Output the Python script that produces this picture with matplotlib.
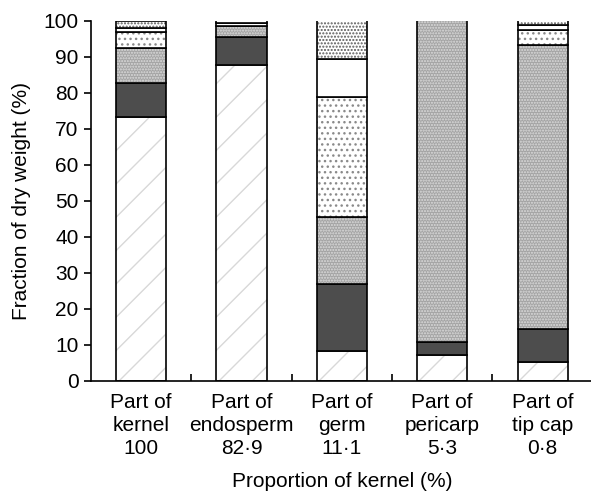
import numpy as np
import matplotlib.pyplot as plt

plt.rcParams.update({
    "font.family": ["Liberation Sans", "DejaVu Sans"],
    "font.size": 15,
    "hatch.linewidth": 1.0,
    "axes.linewidth": 1.2,
})

# parts of the kernel and their share of the whole kernel (%)
parts = ["kernel", "endosperm", "germ", "pericarp", "tip cap"]
proportion = ["100", "82\u00b79", "11\u00b71", "5\u00b73", "0\u00b78"]

# fraction of dry weight (%) per component, bottom to top
seg1 = [73.4, 87.8, 8.3, 7.1, 5.3]
seg2 = [9.5, 7.8, 18.6, 3.6, 9.1]
seg3 = [9.5, 3.0, 18.6, 89.5, 78.9]
seg4 = [4.6, 0.9, 33.5, 0.0, 4.2]
seg5 = [1.1, 0.7, 10.3, 0.0, 1.4]
seg6 = [1.9, 0.5, 11.2, 0.0, 1.6]

segments = [seg1, seg2, seg3, seg4, seg5, seg6]
faces = ["white", "#4d4d4d", "#a4a4a4", "white", "white", "white"]
hatches = ["/", None, "......", "...", None, "....."]
hatch_cols = ["#d8d8d8", "#4d4d4d", "#dcdcdc", "#8a8a8a", "white", "#5a5a5a"]

fig = plt.figure(figsize=(5.91, 4.99), dpi=100)
ax = fig.add_axes([0.154, 0.2365, 0.849, 0.7215])

x = np.arange(len(parts))
bottom = np.zeros(len(parts))
for vals, fc, h, hc in zip(segments, faces, hatches, hatch_cols):
    vals = np.array(vals)
    ax.bar(x, vals, 0.5, bottom=bottom, color=fc, hatch=h, edgecolor=hc, linewidth=0)
    ax.bar(x, vals, 0.5, bottom=bottom, fill=False, edgecolor="black", linewidth=1.2)
    bottom += vals

ax.set_xlim(-0.5, len(parts) - 0.5)
ax.set_ylim(0, 100)
ax.set_yticks(range(0, 101, 10))
ax.set_xticks(x)
ax.set_xticklabels(["Part of\n{}\n{}".format(p, q) for p, q in zip(parts, proportion)],
                   linespacing=1.24)
ax.set_xticks(np.arange(0.5, len(parts) - 0.5, 1), minor=True)
ax.tick_params(axis="x", which="major", length=0, pad=9)
ax.tick_params(axis="x", which="minor", direction="in", length=5, width=1.2)
ax.tick_params(axis="y", direction="out", length=5, width=1.2, pad=4)

ax.spines["top"].set_visible(False)
ax.spines["right"].set_visible(False)
ax.set_ylabel("Fraction of dry weight (%)", fontsize=15, labelpad=9)
ax.set_xlabel("Proportion of kernel (%)", fontsize=15, labelpad=10)

plt.savefig("out.png", dpi=100)
